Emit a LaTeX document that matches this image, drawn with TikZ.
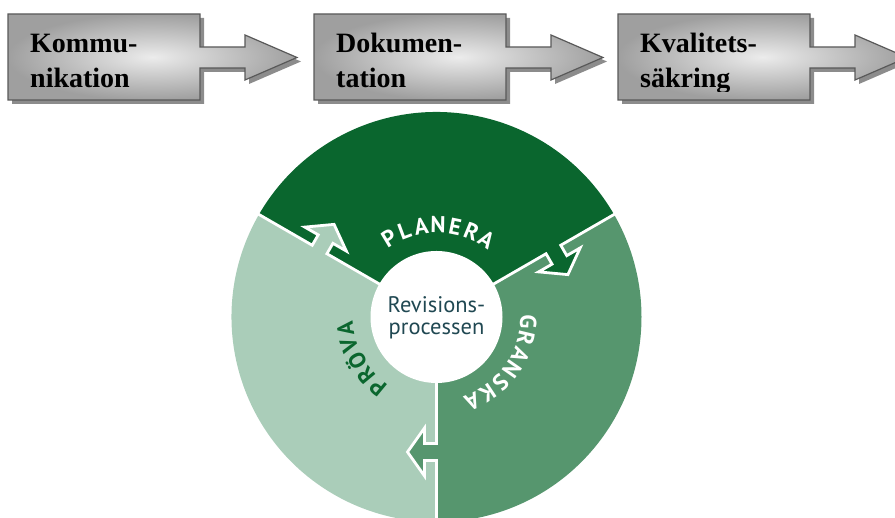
\documentclass[tikz,border=0pt]{standalone}
\usepackage{fontspec}
\setmainfont{Liberation Serif}
\newfontfamily\circlefont{PT Sans}
\usetikzlibrary{calc}
\definecolor{planera}{RGB}{10,102,46}
\definecolor{granska}{RGB}{86,150,110}
\definecolor{prova}{RGB}{170,205,185}
\definecolor{hubtext}{RGB}{32,72,82}
\begin{document}
\begin{tikzpicture}[x=1pt, y=1pt, line join=miter,
		stepbox/.style={draw=black!65, line width=1.2pt, inner color=gray!15, outer color=gray!75,
			preaction={fill=black!45, transform canvas={shift={(4pt,-4pt)}}}},
		steptext/.style={font=\fontsize{28}{35}\selectfont\bfseries, align=left, anchor=base west, inner sep=0pt},
		seam/.style={draw=white, line width=2.8pt},
		arclabel/.style={font=\circlefont\bfseries\fontsize{23}{23}\selectfont, inner sep=0pt}]
		\clip (0,0) rectangle (895,518);
		\foreach \x/\name/\first/\second in {8/komm/Kommu-/nikation, 314/dok/Dokumen-/tation, 618/kval/Kvalitets-/säkring}{
			\draw[stepbox] (\x,504) -- ++(192,0) -- ++(0,-33) -- ++(45,0) -- ++(0,12) -- ++(52,-22.5) -- ++(-52,-22.5) -- ++(0,12) -- ++(-45,0) -- ++(0,-32) -- ++(-192,0) -- cycle;
			\begin{scope}
				\clip (\x,426) rectangle ++(192,78);
				\node[steptext] (\name) at (\x+22,430) {\first\\\second};
			\end{scope}
		}
		\coordinate (c) at (436.5,201);
		\fill[planera] (c) -- ++(30:205) arc[start angle=30, end angle=150, radius=205pt] -- cycle;
		\fill[prova] (c) -- ++(150:205) arc[start angle=150, end angle=270, radius=205pt] -- cycle;
		\fill[granska] (c) -- ++(270:205) arc[start angle=270, end angle=390, radius=205pt] -- cycle;
		\foreach \ang/\col in {30/planera, 150/prova, 270/granska}{
			\begin{scope}[shift={(c)}, rotate=\ang-90]
				\fill[\col] (-1,126.5) -- (12,126.5) -- (12,111) -- (29,135) -- (12,159) -- (12,143.5) -- (-1,143.5) -- cycle;
				\draw[seam] (0,60) -- (0,126.5) -- (12,126.5) -- (12,111) -- (29,135) -- (12,159) -- (12,143.5) -- (0,143.5) -- (0,212);
			\end{scope}
		}
		\fill[white] (c) circle[radius=66pt];
		\node[font=\circlefont\fontsize{22.5}{22}\selectfont, text=hubtext, align=center] (hub) at ([yshift=-1]c) {Revisions-\\processen};
		\foreach \word/\mid/\half/\col/\letters in {plan/89/4/white/{P,L,A,N,E,R,A}, gran/-35/4/white/{G,R,A,N,S,K,A}, prov/209/3/planera/{P,R,Ö,V,A}}{
			\foreach \ch [count=\i, evaluate=\i as \a using \mid+10.7*(\half-\i)] in \letters
				\node[arclabel, text=\col, rotate=\a-90] (\word-\i) at ($(c)+(\a:92)$) {\ch};
		}
\end{tikzpicture}
\end{document}
